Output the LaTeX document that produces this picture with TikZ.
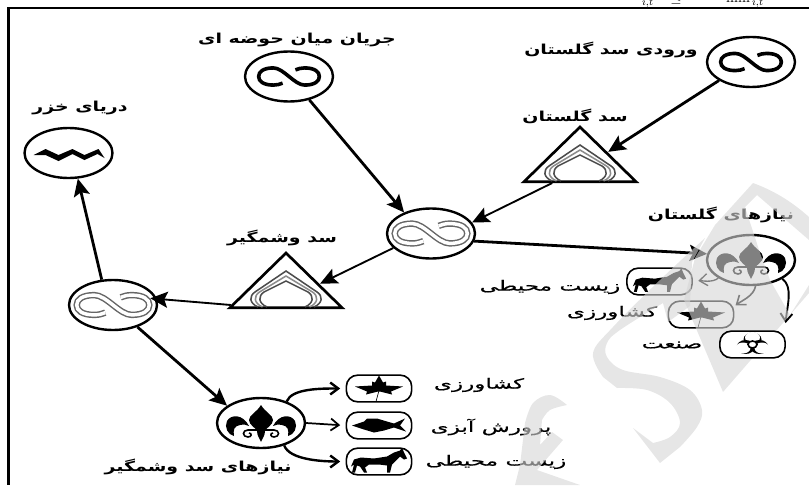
\documentclass[tikz,border=0pt]{standalone}
\usepackage{fontspec}
\usetikzlibrary{arrows.meta,shapes.geometric}
\TeXXeTstate=1
\newfontfamily\fab[Script=Arabic,FakeStretch=1.38]{DejaVu Sans Bold}
\newfontfamily\far[Script=Arabic,FakeStretch=1.65,FakeBold=0.6]{DejaVu Sans}
\newcommand{\fat}[1]{\fab\beginR #1\endR}
\newcommand{\fan}[1]{\far\beginR #1\endR}
\definecolor{wm}{gray}{0.84}
\tikzset{
  x=0.75pt,y=-0.75pt,
  flow/.style={ellipse,draw=black,line width=1.8pt,fill=white,minimum width=66pt,minimum height=37.5pt,inner sep=0pt},
  damshape/.style={isosceles triangle,isosceles triangle stretches,shape border rotate=90,draw=black,line width=2pt,fill=white,minimum width=84pt,minimum height=41pt,inner sep=0pt,anchor=lower side},
  pill/.style={rectangle,rounded corners=8.5pt,draw=black,line width=1.2pt,fill=white,minimum width=49pt,minimum height=20pt,inner sep=0pt},
  bold label/.style={font=\fontsize{10.3}{12}\selectfont,inner sep=0pt,text=black},
  plain label/.style={font=\fontsize{10.5}{12}\selectfont,inner sep=0pt,text=black},
  bigarrow/.style={line width=2.1pt,-{Stealth[length=13pt,width=12pt,inset=2.5pt]}},
  thinarrow/.style={line width=1.4pt,-{Stealth[length=13pt,width=12pt,inset=2.5pt]}},
  bendarrow/.style={line width=1.3pt,-{Straight Barb[length=6pt,width=9pt]},shorten >=4pt},
  infin/.pic={
    \path[pic actions] (-7,8.5) .. controls (-10,10) and (-13,11) .. (-17,11) .. controls (-28,11) and (-33,6) .. (-33,0) .. controls (-33,-6) and (-28,-11) .. (-17,-11) .. controls (-6,-11) and (6,11) .. (17,11) .. controls (28,11) and (33,6) .. (33,0) .. controls (33,-6) and (28,-11) .. (17,-11) .. controls (13,-11) and (10,-10) .. (7,-8.5);},
  arches/.pic={
    \foreach \w/\h/\c in {28/38/70,23.5/33/45,19/28/70}{
      \draw[line width=1.15pt,draw=black!\c] (-\w,-2) .. controls (-\w-9,-6) and (-\w-9,-13) .. (-\w-3,-17) -- (0,-\h) -- (\w+3,-17) .. controls (\w+9,-13) and (\w+9,-6) .. (\w,-2);}},
  fleur/.pic={
    \fill (0,-18) .. controls (-4,-11) and (-12,-8) .. (-12,-3) .. controls (-12,2) and (-5,5) .. (-4,8) .. controls (-4,13) and (-1,16) .. (0,19) .. controls (1,16) and (4,13) .. (4,8) .. controls (5,5) and (12,2) .. (12,-3) .. controls (12,-8) and (4,-11) .. (0,-18) -- cycle;
    \foreach \s in {1,-1}{
      \begin{scope}[xscale=\s]
      \fill (-12,3) .. controls (-18,-9) and (-30,-9) .. (-34,-2) .. controls (-37,4) and (-33,12) .. (-27,13) .. controls (-28,7) and (-27,3) .. (-21,2) .. controls (-17,1) and (-14,2) .. (-12,3) -- cycle;
      \draw[line width=1.2pt] (-3,7) -- (-13,7) .. controls (-19,7) and (-19,14) .. (-13,14) .. controls (-9,14) and (-9,10) .. (-12,10);
      \end{scope}}},
  wavepic/.pic={
    \fill (-35,2) -- (-23,-4) -- (-10,2) -- (4,-4) -- (16,2) -- (30,-4) -- (36,5) -- (29,1) -- (16,7) -- (4,1) -- (-10,8) -- (-23,2) -- cycle;},
  horsepic/.pic={
    \fill (-28,5) -- (-25,-2) -- (-18,-4) -- (-5,-3) -- (8,-5) -- (15,-9) -- (21,-11) -- (23,-14) -- (25,-9) -- (28,-3) -- (25,-2) -- (21,-5) -- (17,-1) -- (13,3) -- (11,11) -- (8,11) -- (8,4) -- (0,3) -- (-10,3) -- (-14,6) -- (-12,11) -- (-15,11) -- (-19,5) -- (-22,4) -- (-24,11) -- (-27,11) -- (-25,3) -- cycle;},
  leafpic/.pic={
    \fill (0,-13) -- (-4,-6) -- (-7,-7) -- (-7,-3) -- (-24,-2) -- (-12,3) -- (-13,6) -- (-1,3) -- (1,3) -- (13,6) -- (12,3) -- (24,-2) -- (7,-3) -- (7,-7) -- (4,-6) -- cycle;
    \draw[line width=.5pt] (0,2) -- (-3,13);},
  fishpic/.pic={
    \fill (-27,0) -- (-15,-4) -- (-12,-7) -- (-2,-7) -- (8,-4) -- (15,-2) -- (26,-7) -- (21,0) -- (27,6) -- (15,2) -- (5,5) -- (-5,7) -- (-15,4) -- cycle;},
  biopic/.pic={
    \foreach \a in {90,210,330}{
      \fill (\a:8 and -5) ellipse (9 and 7);
      \fill[white] (\a:11 and -7) ellipse (7.5 and 5.5);}
    \draw[line width=1.2pt,fill=white] (0,0) ellipse (4.5 and 3.5);},
}
\begin{document}
\begin{tikzpicture}
\useasboundingbox (0,0) rectangle (809,485);
% page fragment above the frame
\begin{scope}
\clip (0,0) rectangle (809,7);
\node[inner sep=0pt,anchor=base] (frag1) at (648,3) {\fontsize{11}{12}\selectfont$_{i,t}$};
\node[inner sep=0pt,anchor=base] (frag2) at (676,3) {\fontsize{11}{12}\selectfont$\leq$};
\node[inner sep=0pt,anchor=base] (frag3) at (745,3) {\fontsize{11}{12}\selectfont min$_{\,i,t}$};
\end{scope}
\draw[line width=1.9pt] (809,8) -- (8.5,8) -- (8.5,485);

% water nodes
\node[flow] (inflow) at (751,62) {};
\node[flow] (mid) at (289,76.5) {};
\node[flow] (caspian) at (68.5,153) {};
\node[flow] (juncA) at (431,233.5) {};
\node[flow] (juncB) at (113,305) {};
\node[flow] (needG) at (751,260) {};
\node[flow] (needV) at (261,423) {};
\node[damshape] (damG) at (580,183) {};
\node[damshape] (damV) at (286,309) {};

\pic[draw=black,line width=2.7pt,xscale=.92,yscale=.78] at (751,62) {infin};
\pic[draw=black,line width=2.7pt,xscale=.92,yscale=.78] at (289,76.5) {infin};
\foreach \p in {(431,233.5),(113,305)}{
  \pic[draw=black!60,line width=1.1pt,double=white,double distance=2.6pt,xscale=1.1,yscale=.9] at \p {infin};
}
\pic at (68.5,153) {wavepic};
\pic at (580,183) {arches};
\pic at (286,309) {arches};
\pic at (751,260) {fleur};
\pic at (261,423) {fleur};

% demand pills
\node[pill] (horseG) at (659.5,281.5) {};
\node[pill] (leafG) at (701,314.5) {};
\node[pill] (leafV) at (379,388.5) {};
\node[pill] (fishV) at (379,425.5) {};
\node[pill] (horseV) at (379,461.5) {};
\pic[scale=.95] at (659.5,281.5) {horsepic};
\pic at (701,314.5) {leafpic};
\pic at (379,388.5) {leafpic};
\pic at (379,425.5) {fishpic};
\pic at (379,461.5) {horsepic};

% labels
\node[bold label] (lmid) at (297,40) {\fat{جریان میان حوضه ای}};
\node[bold label] (linflow) at (611,50) {\fat{ورودی سد گلستان}};
\node[bold label] (ldamG) at (575,116) {\fat{سد گلستان}};
\node[bold label] (lcaspian) at (80,108) {\fat{دریای خزر}};
\node[bold label] (ldamV) at (282,238) {\fat{سد وشمگیر}};
\node[bold label] (lneedG) at (721,215) {\fat{نیازهای گلستان}};
\node[bold label] (lneedV) at (198,467) {\fat{نیازهای سد وشمگیر}};
\node[plain label] (tleafV) at (479,385) {\fan{کشاورزی}};
\node[plain label] (tfishV) at (491,427) {\fan{پرورش آبزی}};
\node[plain label] (thorseV) at (496,462) {\fan{زیست محیطی}};
\node[plain label] (thorseG) at (550,287) {\fan{زیست محیطی}};
\node[plain label] (tleafG) at (612,313) {\fan{کشاورزی}};
\node[plain label] (tbioG) at (672,345) {\fan{صنعت}};

% connectors
\draw[bigarrow] (inflow.210) -- (damG.14);
\draw[thinarrow] (damG.221) -- (juncA.15);
\draw[bigarrow] (mid.-49) -- (juncA.142);
\draw[bigarrow] (juncA.-10) -- (needG.172);
\draw[thinarrow] (juncA.201) -- (damV.2);
\draw[thinarrow,shorten >=-5pt] (damV.200) -- (juncB.8);
\draw[bigarrow] (juncB.114) -- (caspian.-70);
\draw[bigarrow] (juncB.-42) -- (needV.153);
\draw[bendarrow,line width=1.8pt] (needV.40) .. controls +(5,-13) and +(-25,0) .. (leafV.west);
\draw[bendarrow] (needV.east) -- (fishV.west);
\draw[bendarrow,line width=1.8pt] (needV.-44) .. controls +(5,14) and +(-25,0) .. (horseV.west);
\draw[bendarrow,line width=1pt] (needG.209) .. controls +(-6,5) and +(8,-1) .. (horseG.east);
\draw[bendarrow,line width=1.2pt,shorten >=1pt] (needG.-80) .. controls +(-2,10) and +(8,-6) .. (leafG.14);
\draw[bendarrow,line width=1.4pt,shorten >=6pt] (needG.-31) .. controls +(11,8) and +(2,-25) .. (785,331);

% watermark
\begin{scope}
\clip (0,0) rectangle (809,485);
\begin{scope}[opacity=.6]
% S
\fill[wm] plot[smooth,tension=.6] coordinates {(705,238) (660,280) (613,327) (593,353) (603,377)}
  -- plot[smooth,tension=.6] coordinates {(617,388) (647,390) (670,403) (680,423) (670,437) (653,443)}
  -- (633,428) -- (660,463)
  -- plot[smooth,tension=.6] coordinates {(680,447) (697,427) (702,410) (690,390) (660,377) (623,370) (607,357) (607,343) (620,330) (663,303)}
  -- (668,322) -- (690,306) -- (692,262) -- cycle;
% D
\fill[wm] (753,183) -- (715,225) -- (695,258) -- (684,300) -- (723,392) -- (809,293) -- (809,285) -- (790,315) -- (770,280) -- (760,253) -- (745,207) -- (757,195) -- (809,240) -- (809,217) .. controls (790,200) and (772,190) .. (753,183) -- cycle;
% f
\fill[wm] plot[smooth,tension=.6] coordinates {(567,405) (550,395) (533,403) (525,423)}
  -- (520,465) -- (515,485) -- (580,485) -- (537,470) -- (563,440) -- (552,432) -- (540,445)
  -- plot[smooth,tension=.6] coordinates {(542,420) (550,410) (567,405)} -- cycle;
\end{scope}
\end{scope}

% pill drawn clear of the shading
\node[pill] (bioG) at (752.5,344.5) {};
\pic at (752.5,344.5) {biopic};
\end{tikzpicture}
\end{document}
